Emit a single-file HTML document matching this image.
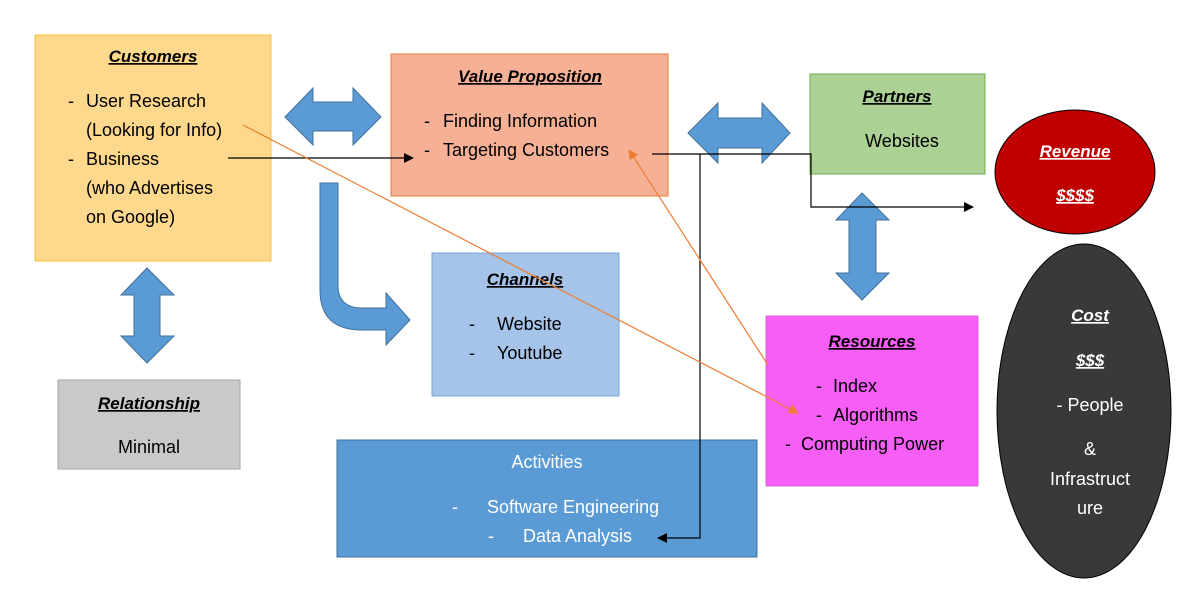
<!DOCTYPE html>
<html><head><meta charset="utf-8"><style>
body{margin:0;background:#fff}
svg{display:block;font-family:"Liberation Sans",sans-serif}
.h{font-weight:bold;font-style:italic;text-decoration:underline;font-size:17px}
.t{font-size:18px}
</style></head><body>
<svg width="1197" height="595" viewBox="0 0 1197 595">
<defs>
<marker id="ab" markerWidth="10" markerHeight="10" refX="9" refY="5" orient="auto" markerUnits="userSpaceOnUse"><path d="M0,0 L10,5 L0,10z" fill="#000"/></marker>
<marker id="ao" markerWidth="10" markerHeight="10" refX="9" refY="5" orient="auto" markerUnits="userSpaceOnUse"><path d="M0,0 L10,5 L0,10z" fill="#ed7d31"/></marker>
</defs>
<rect x="35" y="35" width="236" height="226" fill="#fed88c" stroke="#f6c243"/>
<text x="153" y="62" text-anchor="middle" class="h">Customers</text>
<g class="t" fill="#000">
<text x="68" y="107">-</text><text x="86" y="107">User Research</text>
<text x="86" y="136">(Looking for Info)</text>
<text x="68" y="165">-</text><text x="86" y="165">Business</text>
<text x="86" y="194">(who Advertises</text>
<text x="86" y="223">on Google)</text></g>
<rect x="391" y="54" width="277" height="142" fill="#f5b096" stroke="#ed7d31"/>
<text x="530" y="82" text-anchor="middle" class="h">Value Proposition</text>
<text x="424" y="127" class="t">-</text><text x="443" y="127" class="t">Finding Information</text>
<text x="424" y="156" class="t">-</text><text x="443" y="156" class="t">Targeting Customers</text>
<rect x="810" y="74" width="175" height="100" fill="#acd195" stroke="#70ad47"/>
<text x="897" y="102" text-anchor="middle" class="h">Partners</text>
<text x="902" y="147" text-anchor="middle" class="t">Websites</text>
<ellipse cx="1075" cy="172" rx="80" ry="62" fill="#c00000" stroke="#000"/>
<text x="1075" y="157" text-anchor="middle" class="h" fill="#fff">Revenue</text>
<text x="1075" y="201" text-anchor="middle" class="h" fill="#fff">$$$$</text>
<ellipse cx="1084" cy="411" rx="87" ry="167" fill="#3b3838" stroke="#000"/>
<text x="1090" y="321" text-anchor="middle" class="h" fill="#fff">Cost</text>
<text x="1090" y="366" text-anchor="middle" class="h" fill="#fff">$$$</text>
<g class="t" fill="#fff" text-anchor="middle">
<text x="1090" y="411">- People</text>
<text x="1090" y="455">&amp;</text>
<text x="1090" y="485">Infrastruct</text>
<text x="1090" y="514">ure</text></g>
<rect x="432" y="253" width="187" height="143" fill="#a6c3e9" stroke="#7aa4d8"/>
<text x="525" y="285" text-anchor="middle" class="h">Channels</text>
<text x="469" y="330" class="t">-</text><text x="497" y="330" class="t">Website</text>
<text x="469" y="359" class="t">-</text><text x="497" y="359" class="t">Youtube</text>
<rect x="766" y="316" width="212" height="170" fill="#f65ef5" stroke="#e060d8"/>
<text x="872" y="347" text-anchor="middle" class="h">Resources</text>
<text x="816" y="392" class="t">-</text><text x="833" y="392" class="t">Index</text>
<text x="816" y="421" class="t">-</text><text x="833" y="421" class="t">Algorithms</text>
<text x="785" y="450" class="t">-</text><text x="801" y="450" class="t">Computing Power</text>
<rect x="58" y="380" width="182" height="89" fill="#c9c9c9" stroke="#a6a6a6"/>
<text x="149" y="409" text-anchor="middle" class="h">Relationship</text>
<text x="149" y="453" text-anchor="middle" class="t">Minimal</text>
<rect x="337" y="440" width="420" height="117" fill="#5b9bd5" stroke="#41719c"/>
<text x="547" y="468" text-anchor="middle" class="t" fill="#fff">Activities</text>
<text x="452" y="513" class="t" fill="#fff">-</text><text x="487" y="513" class="t" fill="#fff">Software Engineering</text>
<text x="488" y="542" class="t" fill="#fff">-</text><text x="523" y="542" class="t" fill="#fff">Data Analysis</text>
<g fill="#5b9bd5" stroke="#41719c" stroke-width="1">
<path d="M285,117 L313,88 L313,102 L353,102 L353,88 L381,117 L353,145 L353,131 L313,131 L313,145z"/>
<path d="M688,133 L718,103 L718,118 L762,118 L762,103 L790,133 L762,163 L762,148 L718,148 L718,163z"/>
<path d="M147,268 L174,295 L160,295 L160,336 L174,336 L147,363 L121,336 L134,336 L134,295 L121,295z"/>
<path d="M862,193 L889,220 L876,220 L876,273 L889,273 L862,300 L836,273 L849,273 L849,220 L836,220z"/>
<path d="M320,183 L338,183 L338,285 Q338,308 362,308 L386,308 L386,293 L410,320 L386,345 L386,330 L362,330 Q320,330 320,290z"/>
</g>
<g fill="none" stroke-width="1.2">
<path d="M228,158 L413,158" stroke="#000" marker-end="url(#ab)"/>
<path d="M652,154 L811,154 L811,207 L973,207" stroke="#000" marker-end="url(#ab)"/>
<path d="M700,154 L700,538 L658,538" stroke="#000" marker-end="url(#ab)"/>
<path d="M243,125 L798,413" stroke="#ed7d31" marker-end="url(#ao)"/>
<path d="M768,365 L629,150" stroke="#ed7d31" marker-end="url(#ao)"/>
</g>
</svg>
</body></html>
